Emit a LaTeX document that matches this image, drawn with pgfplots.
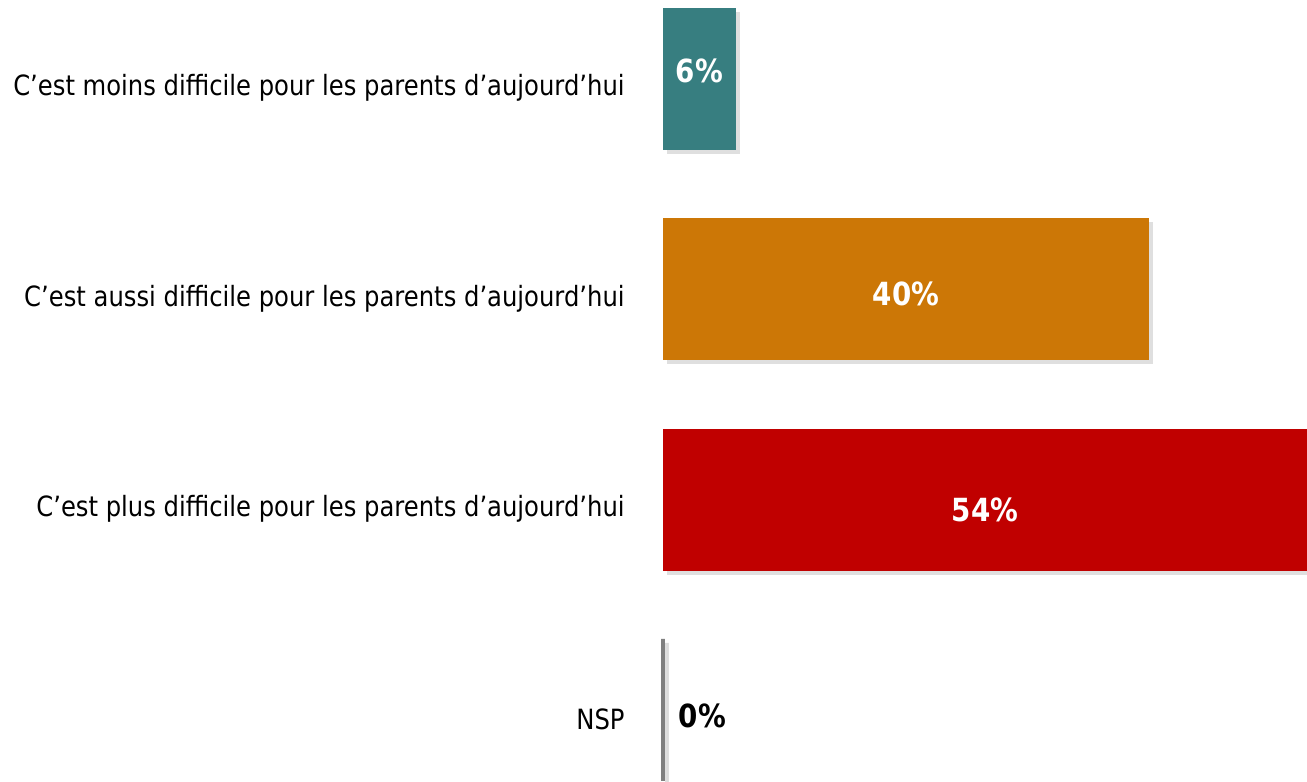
\documentclass[border=0pt]{standalone}
\usepackage{fontspec}
\setmainfont{DejaVu Sans}[FakeStretch=0.87]
\usepackage{pgfplots}
\pgfplotsset{compat=1.18}
\usetikzlibrary{shadows}
\definecolor{cteal}{RGB}{55,126,128}
\definecolor{corange}{RGB}{204,119,6}
\definecolor{cred}{RGB}{192,0,0}
\definecolor{cgray}{RGB}{128,128,128}
\begin{document}
\begin{tikzpicture}
\begin{axis}[
  name=main,
  scale only axis,
  width=322bp, height=391bp,
  xmin=0, xmax=53,
  ymin=-0.376, ymax=3.343,
  y dir=reverse,
  bar shift=0pt,
  bar width=71bp,
  hide x axis,
  y axis line style={draw=none},
  ytick={0,1,2,3},
  ytick style={draw=none},
  yticklabels={C’est moins difficile pour les parents d’aujourd’hui,
               C’est aussi difficile pour les parents d’aujourd’hui,
               C’est plus difficile pour les parents d’aujourd’hui,
               NSP},
  yticklabel style={font=\fontsize{14}{16}\selectfont, inner sep=0pt, xshift=-19bp, yshift=-4.5bp},
  clip=false,
]
\addplot[xbar, fill=cteal, draw=none, drop shadow={opacity=0.25, shadow xshift=2bp, shadow yshift=-2bp}] coordinates {(6,0)};
\addplot[xbar, fill=corange, draw=none, drop shadow={opacity=0.25, shadow xshift=2bp, shadow yshift=-2bp}] coordinates {(40,1)};
\addplot[xbar, fill=cred, draw=none, drop shadow={opacity=0.25, shadow xshift=2bp, shadow yshift=-2bp}] coordinates {(54,2)};
\addplot[xbar, fill=cgray, draw=cgray, line width=2bp, drop shadow={opacity=0.25, shadow xshift=2bp, shadow yshift=-2bp}] coordinates {(0,3)};
% value labels, centred in the bars
\addplot[draw=none, mark=none, nodes near coords, point meta=explicit symbolic,
  every node near coord/.append style={anchor=center, text=white, font=\bfseries\fontsize{16}{18}\selectfont}]
  table[meta=lab] {
x y lab
3 -0.04 6\%
20 1.02 40\%
26.5 2.05 54\%
};
\addplot[draw=none, mark=none, nodes near coords, point meta=explicit symbolic,
  every node near coord/.append style={anchor=west, inner sep=0pt, text=black, font=\bfseries\fontsize{16}{18}\selectfont}]
  table[meta=lab] {
x y lab
1.26 3.03 0\%
};
\end{axis}
\pgfresetboundingbox
\useasboundingbox ([xshift=-331.5bp]main.south west) rectangle (main.north east);
\end{tikzpicture}
\end{document}
